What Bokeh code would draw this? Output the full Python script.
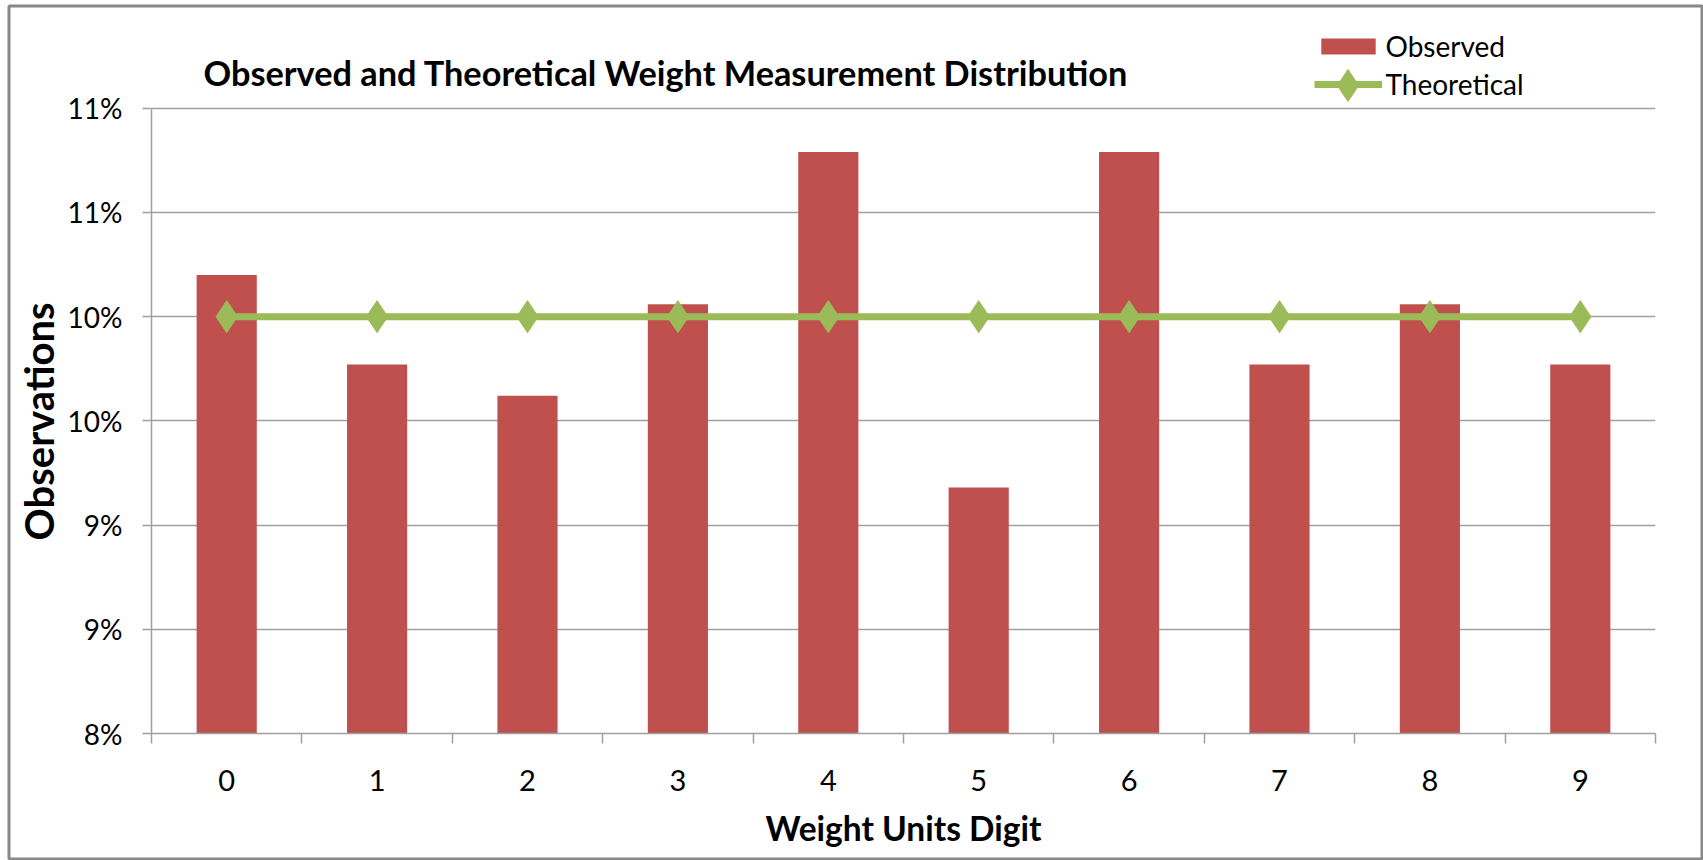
from bokeh.plotting import figure
from bokeh.models import (FixedTicker, CustomJSTickFormatter, Legend, LegendItem,
                          Range1d, Label, Title)
from bokeh.embed import file_html
from bokeh.resources import INLINE

# ---- data ----
digits = [0, 1, 2, 3, 4, 5, 6, 7, 8, 9]
observed = [10.20, 9.77, 9.62, 10.06, 10.79, 9.18, 10.79, 9.77, 10.06, 9.77]   # percent
theoretical = [10.0, 10.0, 10.0, 10.0, 10.0, 10.0, 10.0, 10.0, 10.0, 10.0]       # percent
y_ticks = [8.0, 8.5, 9.0, 9.5, 10.0, 10.5, 11.0]
Y_MIN, Y_MAX = 8.0, 11.0

title_text = "Observed and Theoretical Weight Measurement Distribution"
x_title = "Weight Units Digit"
y_title = "Observations"
series_names = ["Observed", "Theoretical"]

# ---- style / geometry ----
FONT = "Lato"
RED = "#C0504D"
GREEN = "#9BBB59"
GRID = "#A0A0A0"
W, H = 1703, 860
FL, FR, FT, FB = 151, 1655, 0, 733   # plotting frame edges (canvas px)
PY_MAX = 107.7                       # canvas px where Y_MAX (11%) sits
# frame reaches to the top so that title + legend can live inside it
Y_TOP = Y_MIN + (Y_MAX - Y_MIN) * (FB - FT) / (FB - PY_MAX)

LEG_X, LEG_Y = 1162.5, 632           # legend bottom-left, px from frame bottom-left
LEG_GW, LEG_GH = 68, 20              # legend glyph box
LEG_ICON_Y = 85                      # canvas px of the 'Theoretical' legend row


def xd(px):
    return -0.5 + (px - FL) * len(digits) / (FR - FL)


def yd(py):
    return Y_MIN + (FB - py) * (Y_TOP - Y_MIN) / (FB - FT)


p = figure(width=W, height=H, output_backend="svg", toolbar_location=None,
           x_range=Range1d(-0.5, len(digits) - 0.5), y_range=Range1d(Y_MIN, Y_TOP),
           min_border_left=FL, min_border_right=W - FR, min_border_top=FT,
           min_border_bottom=H - FB)
p.title.visible = False
p.outline_line_color = None
p.background_fill_color = "white"
p.border_fill_color = "white"

bars = p.vbar(x=digits, top=observed, bottom=Y_MIN, width=0.4,
              fill_color=RED, line_color=None)
line = p.line(x=digits, y=theoretical, line_color=GREEN, line_width=7)
pts = p.scatter(x=digits, y=theoretical, marker="diamond", size=32,
                fill_color=GREEN, line_color=GREEN)

# chart title (inside the extended frame)
p.add_layout(Label(x=52, y=FB - 72, x_units="screen", y_units="screen",
                   text=title_text, text_font=FONT, text_font_style="bold",
                   text_font_size="34.3px", text_color="black",
                   text_baseline="alphabetic"))

# x axis
xa = p.xaxis[0]
xa.ticker = FixedTicker(ticks=digits, minor_ticks=[d - 0.5 for d in digits] + [digits[-1] + 0.5])
xa.major_tick_line_color = None
xa.major_tick_out = 0
xa.major_tick_in = 0
xa.minor_tick_out = 10
xa.minor_tick_in = 0
xa.minor_tick_line_color = GRID
xa.minor_tick_line_width = 1.5
xa.axis_line_color = GRID
xa.axis_line_width = 1.5
xa.major_label_text_font = FONT
xa.major_label_text_font_size = "29px"
xa.major_label_text_color = "black"
xa.major_label_standoff = 26
xa.axis_label = x_title
xa.axis_label_text_font = FONT
xa.axis_label_text_font_style = "bold"
xa.axis_label_text_font_size = "33.5px"
xa.axis_label_text_color = "black"
xa.axis_label_standoff = 14

# y axis
ya = p.yaxis[0]
ya.bounds = (Y_MIN, Y_MAX)
ya.ticker = FixedTicker(ticks=y_ticks, minor_ticks=[])
ya.formatter = CustomJSTickFormatter(code="return Math.round(tick) + '%';")
ya.major_tick_out = 9
ya.major_tick_in = 0
ya.major_tick_line_color = GRID
ya.major_tick_line_width = 1.5
ya.minor_tick_line_color = None
ya.axis_line_color = GRID
ya.axis_line_width = 1.5
ya.major_label_text_font = FONT
ya.major_label_text_font_size = "28px"
ya.major_label_text_color = "black"
ya.major_label_standoff = 20

# y axis title, positioned along the 8%..11% span
p.add_layout(Title(text=y_title, text_font=FONT, text_font_style="bold",
                   text_font_size="40px", text_color="black",
                   align="left", offset=FB - 540, standoff=4,
                   vertical_align="bottom"), "left")

p.xgrid.grid_line_color = None
p.ygrid.grid_line_color = GRID
p.ygrid.grid_line_width = 1.5

# legend (location = bottom-left corner, in pixels from frame's bottom-left)
legend = Legend(items=[LegendItem(label=series_names[0], renderers=[bars]),
                       LegendItem(label=series_names[1], renderers=[line])],
                location=(LEG_X, LEG_Y), orientation="vertical",
                border_line_color=None, background_fill_alpha=0,
                label_text_font=FONT, label_text_font_size="28px",
                label_text_color="black",
                glyph_width=LEG_GW, glyph_height=LEG_GH, spacing=4, padding=0,
                margin=0, label_standoff=4)
p.add_layout(legend)
# full-size diamond on the legend's line sample (Bokeh shrinks legend markers)
p.scatter(x=[xd(FL + LEG_X + LEG_GW / 2)], y=[yd(LEG_ICON_Y)], marker="diamond",
          size=32, fill_color=GREEN, line_color=GREEN, level="annotation")

# thin gray frame around the whole chart
p.quad(left=[xd(8.5)], right=[xd(1701.5)], top=[yd(5.5)], bottom=[yd(858.5)],
       fill_color=None, line_color="#888888", line_width=3, level="annotation")

open("out.html", "w").write(file_html(p, INLINE))
